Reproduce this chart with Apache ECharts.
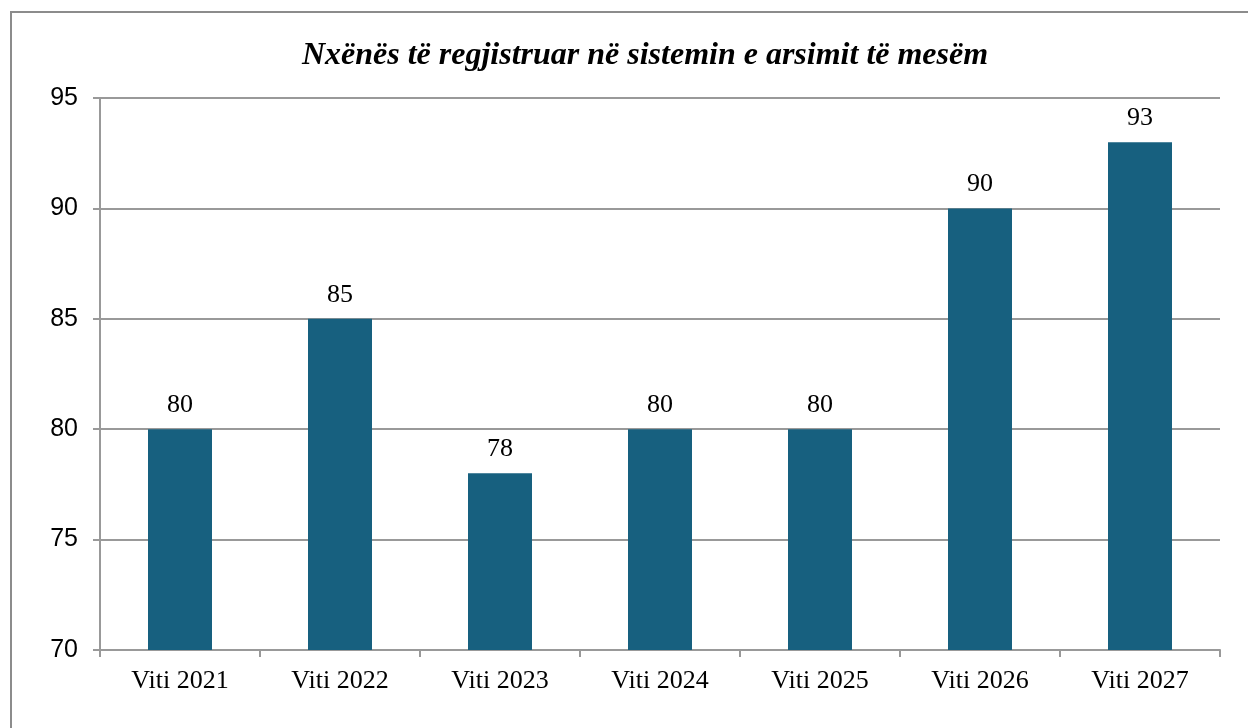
<!DOCTYPE html>
<html>
<head>
<meta charset="utf-8">
<script src="https://cdn.jsdelivr.net/npm/echarts@6/dist/echarts.min.js"></script>
<style>
  html, body { margin: 0; padding: 0; background: #fff; }
  #chart { width: 1248px; height: 728px; }
</style>
</head>
<body>
<div id="chart"></div>
<script>
// chart data
const years = ["Viti 2021", "Viti 2022", "Viti 2023", "Viti 2024", "Viti 2025", "Viti 2026", "Viti 2027"];
const students = [80, 85, 78, 80, 80, 90, 93];

const chart = echarts.init(document.getElementById("chart"));

const option = {
  animation: false,
  title: {
    text: "Nxënës të regjistruar në sistemin e arsimit të mesëm",
    left: 640,
    top: 35,
    textAlign: "center",
    textStyle: {
      fontFamily: "Liberation Serif",
      fontStyle: "italic",
      fontWeight: "bold",
      fontSize: 32,
      color: "#000",
    },
  },
  graphic: [
    {
      type: "rect",
      shape: { x: 11, y: 12, width: 1300, height: 800 },
      style: { fill: "none", stroke: "#8c8c8c", lineWidth: 2 },
      silent: true,
    },
  ],
  grid: {
    left: 100,
    right: 28,
    top: 98,
    bottom: 78,
  },
  xAxis: {
    type: "category",
    data: years,
    axisLine: { lineStyle: { color: "#999", width: 2 } },
    axisTick: { show: true, length: 7, lineStyle: { color: "#999", width: 2 } },
    axisLabel: {
      fontFamily: "Liberation Serif",
      fontSize: 26,
      color: "#000",
      margin: 18,
    },
  },
  yAxis: {
    type: "value",
    min: 70,
    max: 95,
    interval: 5,
    axisLine: { show: true, lineStyle: { color: "#999", width: 2 } },
    axisTick: { show: true, length: 7, lineStyle: { color: "#999", width: 2 } },
    splitLine: { lineStyle: { color: "#999", width: 2 } },
    axisLabel: {
      fontFamily: "Liberation Sans",
      fontSize: 25,
      color: "#000",
      margin: 22,
    },
  },
  series: [
    {
      type: "bar",
      data: students,
      barWidth: "40%",
      itemStyle: { color: "#17607f" },
      label: {
        show: true,
        position: "top",
        distance: 11,
        fontFamily: "Liberation Serif",
        fontSize: 26,
        color: "#000",
      },
    },
  ],
};

chart.setOption(option);
</script>
</body>
</html>
